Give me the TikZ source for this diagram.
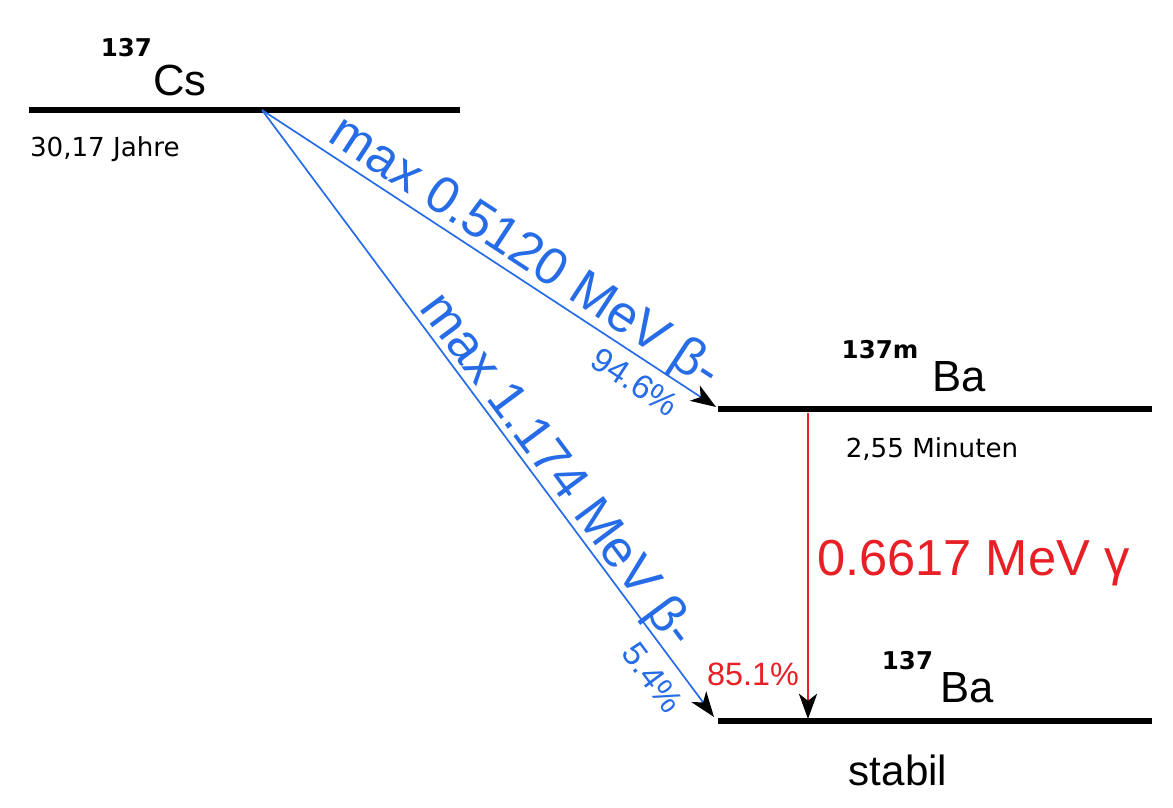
\documentclass[tikz,border=0pt]{standalone}
\usepackage{fontspec}
\setmainfont{Liberation Sans}
\newfontfamily\dejavu{DejaVu Sans}
\usepackage{tikz}
\usetikzlibrary{arrows.meta,positioning}
\definecolor{betablue}{RGB}{38,108,230}
\definecolor{gammared}{RGB}{232,32,38}
\tikzset{
    levelline/.style = {black, line width=1.8pt},
    decayedge/.style = {line width=0.6pt, -{Stealth[color=black, length=9pt, width=6.5pt, inset=2.5pt]}},
    betaedge/.style  = {decayedge, betablue},
    gammaedge/.style = {decayedge, gammared},
    nuclide/.style   = {font=\fontsize{15.5pt}{19pt}\selectfont},
    massno/.style    = {font=\dejavu\bfseries\fontsize{8.7pt}{10pt}\selectfont},
    halflife/.style  = {font=\dejavu\fontsize{9.3pt}{11pt}\selectfont},
    betalabel/.style = {betablue, font=\fontsize{18.5pt}{22pt}\selectfont, text depth=0pt},
    betapct/.style   = {betablue, font=\fontsize{12pt}{14pt}\selectfont, text depth=0pt},
}

\begin{document}
\begin{tikzpicture}[x=0.0125cm, y=0.0125cm]
        \useasboundingbox (0,0) rectangle (1173,807);
        \tikzstyle{every node} = [inner sep=0pt, outer sep=0pt]
        % energy levels
        \coordinate (CsL) at (29,697);
        \coordinate (CsR) at (460,697);
        \coordinate (CsO) at (262,697);
        \coordinate (BamL) at (718,398);
        \coordinate (BamR) at (1152,398);
        \coordinate (BaL) at (718,86);
        \coordinate (BaR) at (1152,86);
        \draw[levelline] (CsL) -- (CsR);
        \draw[levelline] (BamL) -- (BamR);
        \draw[levelline] (BaL) -- (BaR);

        % nuclides
        \node[nuclide, anchor=base west](Cs) at (153,712) {Cs};
        \node[massno, anchor=base east](CsA) at (152,751) {137};
        \node[halflife, anchor=base west](CsT) at (30,651) {30,17 Jahre};
        \node[nuclide, anchor=base west](Bam) at (932,416) {Ba};
        \node[massno, anchor=base](BamA) at (880,449) {137m};
        \node[halflife, anchor=base](BamT) at (932,350) {2,55 Minuten};
        \node[nuclide, anchor=base west](Ba) at (940,105) {Ba};
        \node[massno, anchor=base east](BaA) at (933,138) {137};
        \node[nuclide, font=\fontsize{15pt}{18pt}\selectfont, anchor=base](BaT) at (898,22) {stabil};

        % decays
        \coordinate (BamTip) at (716,400);
        \coordinate (BaTip) at (714,90);
        \coordinate (GamTop) at (808,394);
        \coordinate (GamTip) at (808,88);
        \draw[betaedge] (CsO) -- (BamTip)
            node[betalabel, pos=0.55, sloped, above=3.5pt] {max 0.5120 MeV β-}
            node[betapct, pos=0.85, sloped, below=4pt] {94.6\%};
        \draw[betaedge] (CsO) -- (BaTip)
            node[betalabel, pos=0.615, sloped, above=2.5pt] {max 1.174 MeV β-}
            node[betapct, pos=0.91, sloped, below=5pt] {5.4\%};
        \draw[gammaedge] (GamTop) -- (GamTip);
        \node[gammared, font=\fontsize{18pt}{22pt}\selectfont, anchor=base west](Gam) at (817,232) {0.6617 MeV γ};
        \node[gammared, font=\fontsize{11.5pt}{14pt}\selectfont, anchor=base](GamP) at (753,122) {85.1\%};
\end{tikzpicture}
\end{document}
